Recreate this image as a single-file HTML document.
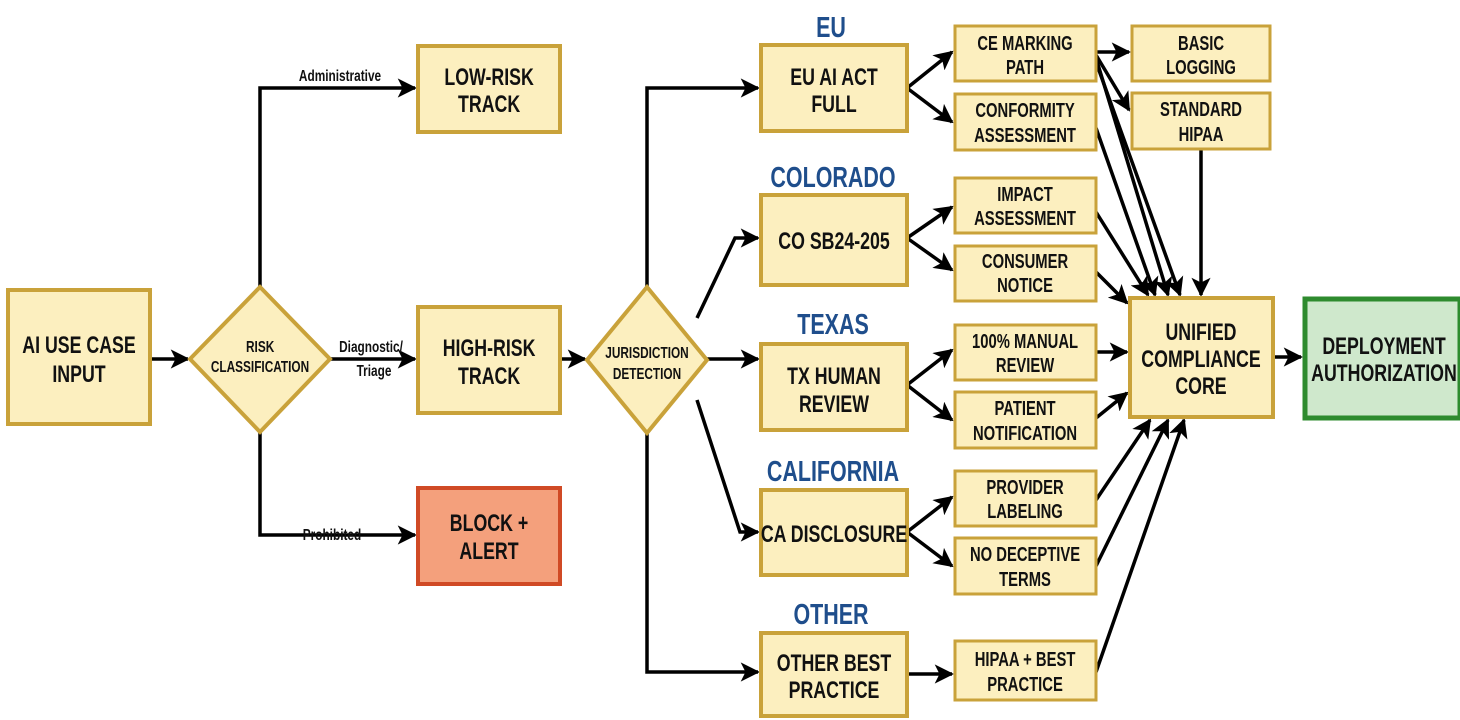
<!DOCTYPE html>
<html><head><meta charset="utf-8"><style>
html,body{margin:0;padding:0;background:#fff;}
svg{display:block}
text{font-family:"Liberation Sans",sans-serif;font-weight:bold;text-anchor:middle;fill:#111;transform-box:fill-box;transform-origin:center;transform:scaleX(0.74);}
.b{fill:#fcefbf;stroke:#c9a23a;stroke-width:4}
.s{fill:#fcefbf;stroke:#c9a23a;stroke-width:3}
.l{stroke:#000;stroke-width:3.5;fill:none;marker-end:url(#a)}
.t{font-size:24px}
.m{font-size:20px}
.r{font-size:29px;fill:#1f4e8c}
.lab{font-size:16px}
</style></head><body>
<svg width="1460" height="720" viewBox="0 0 1460 720">
<defs><marker id="a" viewBox="0 0 10 10" refX="9" refY="5" markerWidth="5.5" markerHeight="5.5" orient="auto" markerUnits="strokeWidth"><path d="M0,0 L10,5 L0,10 L2.5,5 z" fill="#000"/></marker></defs>

<!-- connectors -->
<path class="l" d="M150,359 H188"/>
<path class="l" d="M260,287 V88 H415"/>
<path class="l" d="M330,359 H415"/>
<path class="l" d="M260,432 V535 H415"/>
<path class="l" d="M560,359 H585"/>
<path class="l" d="M647,287 V88 H758"/>
<path class="l" d="M697,318 L735,238 H758"/>
<path class="l" d="M707,359 H758"/>
<path class="l" d="M697,400 L740,532 H758"/>
<path class="l" d="M647,433 V672 H758"/>
<path class="l" d="M907,88 L952,52"/><path class="l" d="M907,88 L952,122"/>
<path class="l" d="M907,238 L952,207"/><path class="l" d="M907,238 L952,270"/>
<path class="l" d="M907,385 L952,350"/><path class="l" d="M907,385 L952,420"/>
<path class="l" d="M907,532 L952,497"/><path class="l" d="M907,532 L952,566"/>
<path class="l" d="M907,674 H952"/>
<path class="l" d="M1096,52 H1129"/>
<path class="l" d="M1096,55 L1129,110"/>
<path class="l" d="M1096,58 L1168,295"/>
<path class="l" d="M1096,62 L1180,295"/>
<path class="l" d="M1096,128 L1155,295"/>
<path class="l" d="M1096,212 L1148,295"/>
<path class="l" d="M1201,149 V295"/>
<path class="l" d="M1096,272 L1127,303"/>
<path class="l" d="M1096,352 H1127"/>
<path class="l" d="M1096,418 L1127,393"/>
<path class="l" d="M1096,500 L1150,420"/>
<path class="l" d="M1096,566 L1168,420"/>
<path class="l" d="M1096,672 L1184,420"/>
<path class="l" d="M1273,357 H1301"/>

<!-- nodes -->
<rect class="b" x="8" y="290" width="142" height="134"/>
<text class="t" x="79" y="353">AI USE CASE</text><text class="t" x="79" y="382">INPUT</text>
<polygon class="b" points="260,287 330,359 260,432 190,359"/>
<text class="lab" x="260" y="352">RISK</text><text class="lab" x="260" y="372">CLASSIFICATION</text>
<text class="lab" x="371" y="352">Diagnostic/</text><text class="lab" x="374" y="376">Triage</text>
<text class="lab" x="340" y="81">Administrative</text>
<text class="lab" x="332" y="540">Prohibited</text>
<rect class="b" x="418" y="46" width="142" height="86"/>
<text class="t" x="489" y="85">LOW-RISK</text><text class="t" x="489" y="112">TRACK</text>
<rect class="b" x="418" y="307" width="142" height="106"/>
<text class="t" x="489" y="356">HIGH-RISK</text><text class="t" x="489" y="384">TRACK</text>
<rect x="418" y="488" width="142" height="96" fill="#f4a07c" stroke="#d04a25" stroke-width="4"/>
<text class="t" x="489" y="531">BLOCK +</text><text class="t" x="489" y="559">ALERT</text>
<polygon class="b" points="647,287 707,360 647,433 587,360"/>
<text class="lab" x="647" y="358">JURISDICTION</text><text class="lab" x="647" y="379">DETECTION</text>

<text class="r" x="831" y="37">EU</text>
<rect class="b" x="761" y="45" width="146" height="86"/>
<text class="t" x="834" y="85">EU AI ACT</text><text class="t" x="834" y="112">FULL</text>
<text class="r" x="833" y="187">COLORADO</text>
<rect class="b" x="761" y="195" width="146" height="90"/>
<text class="t" x="834" y="249">CO SB24-205</text>
<text class="r" x="833" y="334">TEXAS</text>
<rect class="b" x="761" y="344" width="146" height="86"/>
<text class="t" x="834" y="384">TX HUMAN</text><text class="t" x="834" y="412">REVIEW</text>
<text class="r" x="833" y="481">CALIFORNIA</text>
<rect class="b" x="761" y="490" width="146" height="85"/>
<text class="t" x="834" y="542">CA DISCLOSURE</text>
<text class="r" x="831" y="624">OTHER</text>
<rect class="b" x="761" y="633" width="146" height="83"/>
<text class="t" x="834" y="671">OTHER BEST</text><text class="t" x="834" y="698">PRACTICE</text>

<rect class="s" x="955" y="26" width="141" height="55"/><text class="m" x="1025" y="50">CE MARKING</text><text class="m" x="1025" y="74">PATH</text>
<rect class="s" x="955" y="94" width="141" height="56"/><text class="m" x="1025" y="117">CONFORMITY</text><text class="m" x="1025" y="142">ASSESSMENT</text>
<rect class="s" x="955" y="178" width="141" height="55"/><text class="m" x="1025" y="201">IMPACT</text><text class="m" x="1025" y="225">ASSESSMENT</text>
<rect class="s" x="955" y="246" width="141" height="55"/><text class="m" x="1025" y="268">CONSUMER</text><text class="m" x="1025" y="292">NOTICE</text>
<rect class="s" x="955" y="325" width="141" height="55"/><text class="m" x="1025" y="348">100% MANUAL</text><text class="m" x="1025" y="372">REVIEW</text>
<rect class="s" x="955" y="392" width="141" height="56"/><text class="m" x="1025" y="415">PATIENT</text><text class="m" x="1025" y="440">NOTIFICATION</text>
<rect class="s" x="955" y="471" width="141" height="55"/><text class="m" x="1025" y="494">PROVIDER</text><text class="m" x="1025" y="518">LABELING</text>
<rect class="s" x="955" y="538" width="141" height="56"/><text class="m" x="1025" y="561">NO DECEPTIVE</text><text class="m" x="1025" y="586">TERMS</text>
<rect class="s" x="955" y="641" width="141" height="59"/><text class="m" x="1025" y="666">HIPAA + BEST</text><text class="m" x="1025" y="691">PRACTICE</text>
<rect class="s" x="1132" y="26" width="138" height="55"/><text class="m" x="1201" y="50">BASIC</text><text class="m" x="1201" y="74">LOGGING</text>
<rect class="s" x="1132" y="93" width="138" height="56"/><text class="m" x="1201" y="116">STANDARD</text><text class="m" x="1201" y="141">HIPAA</text>

<rect class="b" x="1130" y="298" width="143" height="119"/>
<text class="t" x="1201" y="340">UNIFIED</text><text class="t" x="1201" y="367">COMPLIANCE</text><text class="t" x="1201" y="394">CORE</text>
<rect x="1305" y="299" width="155" height="119" fill="#cfe8cc" stroke="#2e8b2e" stroke-width="5"/>
<text class="t" x="1384" y="354">DEPLOYMENT</text><text class="t" x="1384" y="381">AUTHORIZATION</text>
</svg>
</body></html>
